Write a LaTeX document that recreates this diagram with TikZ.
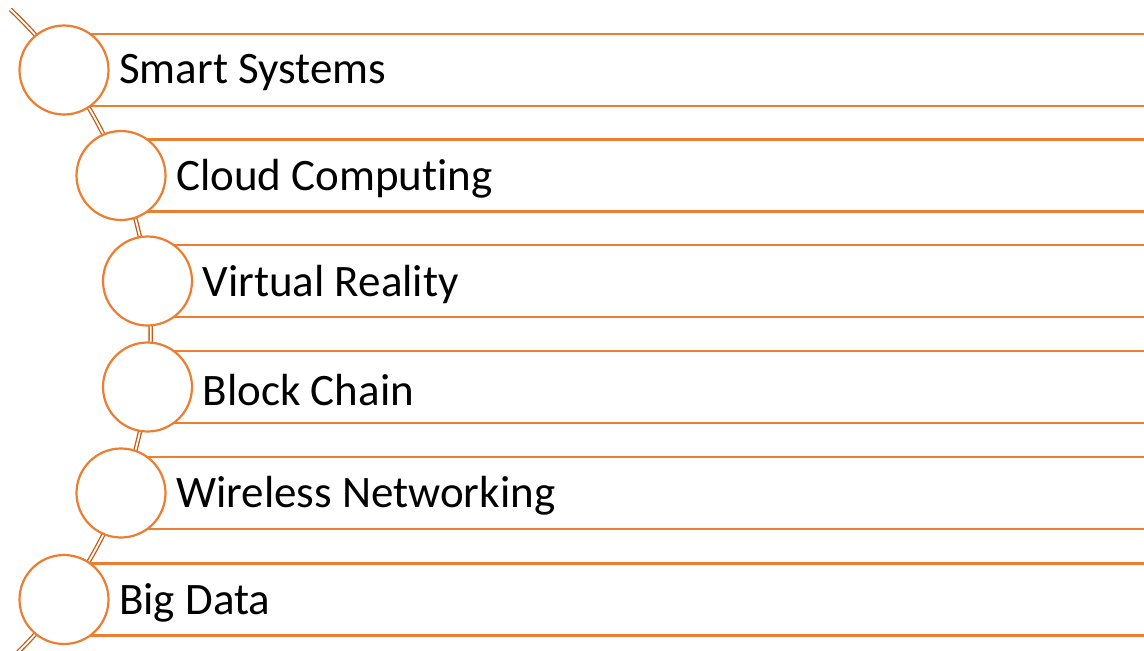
\documentclass[tikz,border=0pt]{standalone}
\usepackage{fontspec}
\setmainfont{Carlito}[RawFeature={-liga,-clig,-dlig,-calt}]
\definecolor{orng}{HTML}{ED7D31}
\definecolor{brwn}{HTML}{C55A11}
\begin{document}
\begin{tikzpicture}[x=1pt,y=-1pt,
  spine/.style={draw=brwn,line width=1.3pt,double=white,double distance=1.8pt},
  bar/.style={draw=orng,fill=white,line width=2.4pt},
  bead/.style={circle,draw=orng,fill=white,line width=2.2pt,minimum size=89pt,inner sep=0pt},
  lbl/.style={anchor=west,inner sep=0pt,font=\fontsize{45}{52}\selectfont,text=black}]
\useasboundingbox (0,0) rectangle (1144,651);
\clip (0,0) rectangle (1144,651);
% spine arc: centre (-296,334.5), radius 446.7
\draw[spine] (-296,334.5) ++(46.2:446.7) arc[start angle=46.2,end angle=-46.7,radius=446.7];
% rows
\foreach \nm/\cx/\cy/\txt in {a/64/70/Smart Systems,b/121/175.5/Cloud Comput\kern0pt ing,c/147.5/281/Virtual Reality,d/147.5/387/Block Chain,e/121/493/Wireless Networking,f/64/599.5/Big Data}{
  \path[bar] (\cx,\cy-36) rectangle (1160,\cy+36);
  \node[bead] (\nm) at (\cx,\cy) {};
  \node[lbl] (\nm t) at (\cx+55,\cy+3) {\txt};
}
\end{tikzpicture}
\end{document}
